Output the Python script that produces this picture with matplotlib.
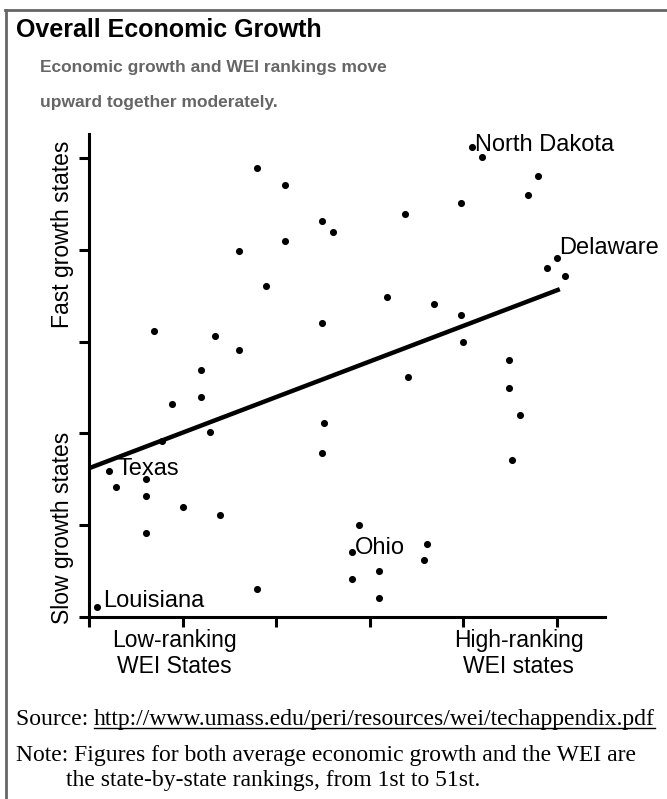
import matplotlib
matplotlib.use("Agg")
import matplotlib.pyplot as plt
from matplotlib.lines import Line2D

# WEI ranking (x) vs. average economic growth ranking (y)
# first five points are the labelled states
wei_rank = [40.9, 50.0, 2.1, 28.1, 0.9,
            18.0, 20.9, 24.9, 26.1, 20.9, 16.0, 18.9, 6.9, 13.5, 24.9,
            16.0, 12.0, 42.0, 48.0, 46.9, 39.7, 33.8, 48.9, 50.9, 31.8,
            36.9, 39.7, 40.0, 44.9, 34.1, 12.0, 8.9, 12.9, 7.8, 25.1,
            24.9, 2.9, 6.1, 6.1, 10.0, 14.0, 6.1, 28.9, 28.1, 17.9,
            44.9, 46.0, 45.2, 36.1, 35.8, 31.0, 31.0]
growth_rank = [51.2, 39.1, 15.9, 7.1, 1.1,
               48.9, 47.1, 43.1, 41.9, 41.0, 39.9, 36.1, 31.2, 30.6, 32.0,
               29.1, 26.9, 50.1, 48.0, 46.0, 45.1, 43.9, 38.0, 37.1, 34.9,
               34.1, 32.9, 30.0, 28.0, 26.1, 24.0, 23.2, 20.1, 19.2, 21.1,
               17.9, 14.2, 15.0, 13.2, 12.0, 11.1, 9.1, 10.0, 4.1, 3.0,
               24.9, 22.0, 17.1, 7.9, 6.2, 5.0, 2.1]
state_names = ["North Dakota", "Delaware", "Texas", "Ohio", "Louisiana"]

# fitted trend line end points
trend_x = [0, 50.3]
trend_y = [16.2, 35.7]

ticks = [0, 10, 20, 30, 40, 50]

# text offsets (points) for the state labels
offsets = {"North Dakota": (2, -3), "Delaware": (1.5, 3), "Texas": (6.5, -3),
           "Ohio": (2, -1.5), "Louisiana": (4, 0)}

sans = "Liberation Sans"
serif = "Liberation Serif"

fig = plt.figure(figsize=(6.67, 7.99), dpi=100)
W, H = 667.0, 799.0

ax = fig.add_axes([89 / W, 1 - 617 / H, 516 / W, 483 / H])
ax.scatter(wei_rank, growth_rank, s=26, color="black", zorder=3, linewidths=0)
ax.plot(trend_x, trend_y, color="black", lw=3.2, solid_capstyle="butt", zorder=2)

for name in state_names:
    i = state_names.index(name)
    ax.annotate(name, (wei_rank[i], growth_rank[i]), xytext=offsets[name],
                textcoords="offset points", ha="left", va="baseline",
                fontsize=17, family=sans)

ax.set_xlim(0, 55.13)
ax.set_ylim(0, 52.6)
ax.set_xticks(ticks)
ax.set_yticks(ticks)
ax.set_xticklabels([])
ax.set_yticklabels([])
for s in ["top", "right"]:
    ax.spines[s].set_visible(False)
for s in ["left", "bottom"]:
    ax.spines[s].set_linewidth(2.2)
ax.tick_params(length=7.5, width=2.2, direction="out")
ax.patch.set_alpha(0)

ax.text(-0.052, 0.793, "Fast growth states", transform=ax.transAxes, rotation=90,
        ha="center", va="center", fontsize=16.5, family=sans)
ax.text(-0.052, 0.184, "Slow growth states", transform=ax.transAxes, rotation=90,
        ha="center", va="center", fontsize=16.5, family=sans)
ax.text(0.165, -0.025, "Low-ranking\nWEI States", transform=ax.transAxes,
        ha="center", va="top", fontsize=16.5, family=sans, linespacing=1.15)
ax.text(0.833, -0.025, "High-ranking\nWEI states", transform=ax.transAxes,
        ha="center", va="top", fontsize=16.5, family=sans, linespacing=1.15)

# title block
fig.text(16 / W, 1 - 37 / H, "Overall Economic Growth", fontsize=18,
         fontweight="bold", family=sans, va="baseline")
fig.text(40 / W, 1 - 72 / H, "Economic growth and WEI rankings move",
         fontsize=12.5, fontweight="bold", family=sans, color="#666666", va="baseline")
fig.text(40 / W, 1 - 107 / H, "upward together moderately.",
         fontsize=12.5, fontweight="bold", family=sans, color="#666666", va="baseline")

# footer
fs = 17
src = fig.text(16 / W, 1 - 725 / H, "Source: ", fontsize=fs, family=serif, va="baseline")
fig.canvas.draw()
r = fig.canvas.get_renderer()
bb = src.get_window_extent(r)
url = fig.text(bb.x1 / W, 1 - 725 / H,
               "http://www.umass.edu/peri/resources/wei/techappendix.pdf",
               fontsize=fs, family=serif, va="baseline")
ub = url.get_window_extent(r)
uy = (H - 727.5) / H
fig.add_artist(Line2D([ub.x0 / W, ub.x1 / W], [uy, uy], color="black", lw=1.0))

fig.text(16 / W, 1 - 761 / H,
         "Note: Figures for both average economic growth and the WEI are",
         fontsize=fs, family=serif, va="baseline")
fig.text(66 / W, 1 - 786 / H, "the state-by-state rankings, from 1st to 51st.",
         fontsize=fs, family=serif, va="baseline")

# grey frame along top and left edge
fig.add_artist(Line2D([6 / W, 6 / W], [0, 1 - 10 / H], color="#666666", lw=2.0))
fig.add_artist(Line2D([5 / W, 1], [1 - 10 / H, 1 - 10 / H], color="#666666", lw=2.0))

fig.savefig("out.png", dpi=100)
